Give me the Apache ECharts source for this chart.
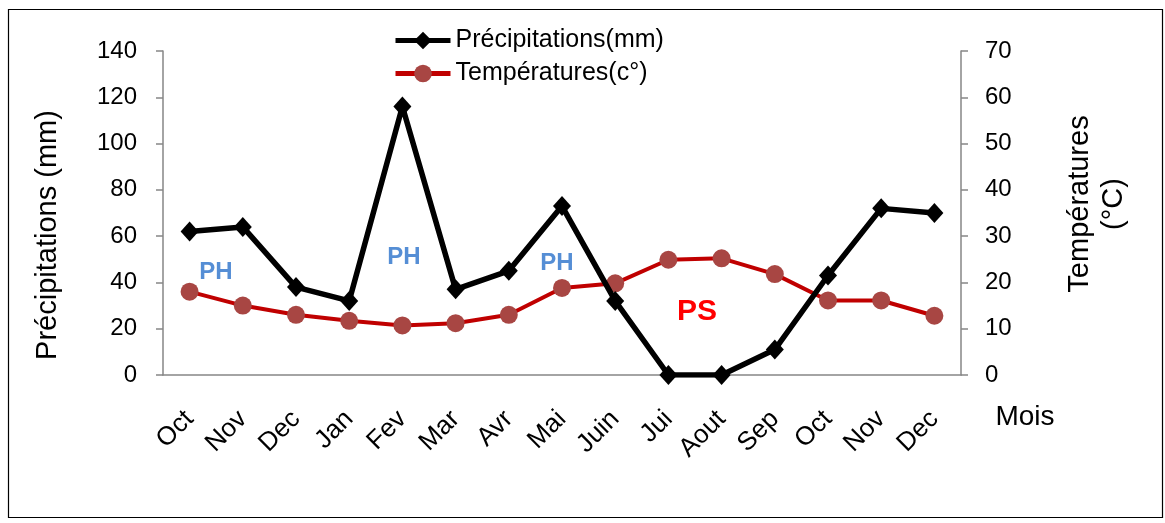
<!DOCTYPE html>
<html>
<head>
<meta charset="utf-8">
<script src="https://cdn.jsdelivr.net/npm/echarts@6/dist/echarts.min.js"></script>
<style>
  html, body { margin: 0; padding: 0; background: #fff; }
  #chart { width: 1165px; height: 523px; }
</style>
</head>
<body>
<div id="chart"></div>
<script>
// Monthly rainfall (mm) and mean temperature (°C), October to December of the following year
const months = ['Oct', 'Nov', 'Dec', 'Jan', 'Fev', 'Mar', 'Avr', 'Mai', 'Juin', 'Jui', 'Aout', 'Sep', 'Oct', 'Nov', 'Dec'];
const precipitations = [62, 64, 38, 32, 116, 37, 45, 73, 32, 0, 0, 11, 43, 72, 70];
const temperatures = [18, 15, 13, 11.7, 10.7, 11.2, 13, 18.8, 19.8, 24.9, 25.2, 21.8, 16.1, 16.1, 12.8];

const precipTicks = { min: 0, max: 140, interval: 20 };
const tempTicks = { min: 0, max: 70, interval: 10 };

const FONT = '"Liberation Sans", Arial, sans-serif';
const AXIS_GREY = '#868686';

const chart = echarts.init(document.getElementById('chart'), null, { renderer: 'canvas' });

chart.setOption({
  animation: false,
  backgroundColor: '#ffffff',
  textStyle: { fontFamily: FONT, color: '#000' },
  grid: { left: 163, right: 204, top: 51, bottom: 148, containLabel: false },
  legend: {
    orient: 'vertical',
    left: 393,
    top: 28,
    padding: 0,
    itemWidth: 55,
    itemHeight: 22,
    itemGap: 8,
    lineStyle: { width: 5 },
    textStyle: { fontFamily: FONT, fontSize: 25, color: '#000' },
    data: ['Précipitations(mm)', 'Températures(c°)']
  },
  xAxis: {
    type: 'category',
    data: months,
    boundaryGap: true,
    axisLine: { lineStyle: { color: AXIS_GREY, width: 1.5 } },
    axisTick: { show: false },
    axisLabel: { rotate: 45, fontSize: 26, color: '#000', fontFamily: FONT, margin: 40, interval: 0 },
    splitLine: { show: false }
  },
  yAxis: [
    {
      type: 'value',
      min: precipTicks.min, max: precipTicks.max, interval: precipTicks.interval,
      axisLine: { show: true, lineStyle: { color: AXIS_GREY, width: 1.5 } },
      axisTick: { show: true, length: 7, lineStyle: { color: AXIS_GREY, width: 1.5 } },
      axisLabel: { fontSize: 24, color: '#000', fontFamily: FONT, margin: 26 },
      splitLine: { show: false }
    },
    {
      type: 'value',
      position: 'right',
      min: tempTicks.min, max: tempTicks.max, interval: tempTicks.interval,
      axisLine: { show: true, lineStyle: { color: AXIS_GREY, width: 1.5 } },
      axisTick: { show: true, length: 7, lineStyle: { color: AXIS_GREY, width: 1.5 } },
      axisLabel: { fontSize: 24, color: '#000', fontFamily: FONT, margin: 24 },
      splitLine: { show: false }
    }
  ],
  series: [
    {
      name: 'Précipitations(mm)',
      type: 'line',
      yAxisIndex: 0,
      data: precipitations,
      z: 3,
      lineStyle: { color: '#000', width: 5.5 },
      itemStyle: { color: '#000' },
      symbol: 'diamond',
      symbolSize: [18, 20],
      showAllSymbol: true
    },
    {
      name: 'Températures(c°)',
      type: 'line',
      yAxisIndex: 1,
      data: temperatures,
      z: 2,
      lineStyle: { color: '#C00000', width: 4 },
      itemStyle: { color: '#A84643' },
      symbol: 'circle',
      symbolSize: 18,
      showAllSymbol: true
    }
  ],
  graphic: [
    // outer frame
    { type: 'rect', shape: { x: 8.5, y: 9.5, width: 1154, height: 508 }, style: { fill: 'none', stroke: '#000', lineWidth: 1.2 }, silent: true },
    // axis titles
    { type: 'text', x: 48, y: 235, rotation: Math.PI / 2,
      style: { text: 'Précipitations (mm)', font: '29px ' + FONT, fill: '#000', align: 'center', verticalAlign: 'middle' } },
    { type: 'text', x: 1097, y: 204, rotation: Math.PI / 2,
      style: { text: 'Températures\n(°C)', font: '29px ' + FONT, fill: '#000', align: 'center', verticalAlign: 'middle', lineHeight: 34 } },
    { type: 'text', x: 1025, y: 417,
      style: { text: 'Mois', font: '28px ' + FONT, fill: '#000', align: 'center', verticalAlign: 'middle' } },
    // season annotations
    { type: 'text', x: 216, y: 272, style: { text: 'PH', font: 'bold 24px ' + FONT, fill: '#558ED5', align: 'center', verticalAlign: 'middle' } },
    { type: 'text', x: 404, y: 257, style: { text: 'PH', font: 'bold 24px ' + FONT, fill: '#558ED5', align: 'center', verticalAlign: 'middle' } },
    { type: 'text', x: 557, y: 263, style: { text: 'PH', font: 'bold 24px ' + FONT, fill: '#558ED5', align: 'center', verticalAlign: 'middle' } },
    { type: 'text', x: 697, y: 312, style: { text: 'PS', font: 'bold 30px ' + FONT, fill: '#FF0000', align: 'center', verticalAlign: 'middle' } }
  ]
});
</script>
</body>
</html>
